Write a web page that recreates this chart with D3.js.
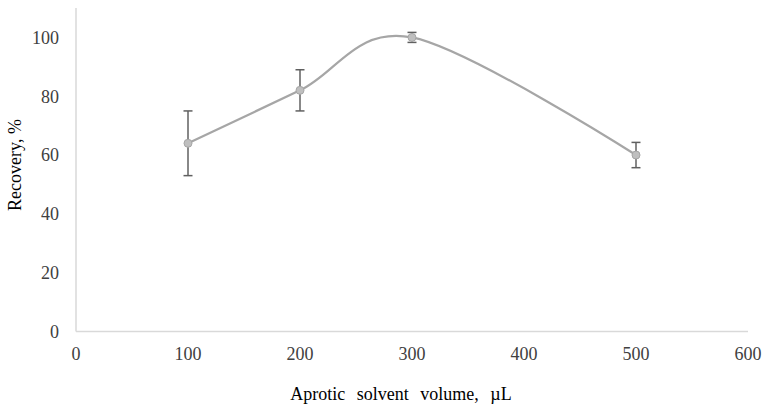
<!DOCTYPE html>
<html><head><meta charset="utf-8">
<script src="https://cdn.jsdelivr.net/npm/d3@7"></script>
<style>body{margin:0;background:#fff;}svg{display:block;}</style>
</head><body>
<svg id="c" width="766" height="406"></svg>
<script>
const volumes = [100, 200, 300, 500];
const recovery = [64, 82, 100, 60];
const errors = [11, 7, 1.7, 4.3];
const xTicks = [0, 100, 200, 300, 400, 500, 600];
const yTicks = [0, 20, 40, 60, 80, 100];
const xTitle = "Aprotic solvent volume, µL";
const yTitle = "Recovery, %";

const svg = d3.select("#c");
const FONT = '"Liberation Serif"';
const x = d3.scaleLinear().domain([0, 600]).range([76, 748]);
const y = d3.scaleLinear().domain([0, 110]).range([331.5, 8]);

// axes lines
svg.append("line").attr("x1", x(0)).attr("x2", x(600)).attr("y1", y(0)).attr("y2", y(0))
  .attr("stroke", "#d9d9d9").attr("stroke-width", 1.5);
svg.append("line").attr("x1", x(0)).attr("x2", x(0)).attr("y1", y(0)).attr("y2", y(110))
  .attr("stroke", "#d9d9d9").attr("stroke-width", 1.5);

// tick labels
svg.selectAll(".yt").data(yTicks).enter().append("text")
  .attr("x", 59).attr("y", d => y(d)).attr("dy", "0.35em")
  .attr("text-anchor", "end").style("font-family", FONT).attr("font-size", 18).attr("fill", "#404040")
  .text(d => d);
svg.selectAll(".xt").data(xTicks).enter().append("text")
  .attr("x", d => x(d)).attr("y", 360)
  .attr("text-anchor", "middle").style("font-family", FONT).attr("font-size", 18).attr("fill", "#404040")
  .text(d => d);

// titles
svg.append("text").attr("x", 401).attr("y", 400).attr("text-anchor", "middle")
  .style("font-family", FONT).attr("font-size", 18).attr("fill", "#000").style("word-spacing", "7px")
  .text(xTitle);
svg.append("text").attr("transform", "translate(21,165) rotate(-90)").attr("text-anchor", "middle")
  .style("font-family", FONT).attr("font-size", 18).attr("fill", "#000")
  .text(yTitle);

const pts = volumes.map((v, i) => ({x: v, y: recovery[i], e: errors[i]}));

// smoothed line
const line = d3.line().x(d => x(d.x)).y(d => y(d.y)).curve(d3.curveCardinal.tension(0));
svg.append("path").attr("d", line(pts)).attr("fill", "none")
  .attr("stroke", "#a6a6a6").attr("stroke-width", 2.2);

// error bars
const eb = svg.append("g").attr("stroke", "#606060").attr("stroke-width", 1.5);
pts.forEach(d => {
  eb.append("line").attr("x1", x(d.x)).attr("x2", x(d.x)).attr("y1", y(d.y - d.e)).attr("y2", y(d.y + d.e));
  [d.y - d.e, d.y + d.e].forEach(v => {
    eb.append("line").attr("x1", x(d.x) - 4.5).attr("x2", x(d.x) + 4.5).attr("y1", y(v)).attr("y2", y(v));
  });
});

// markers
svg.selectAll(".m").data(pts).enter().append("circle")
  .attr("cx", d => x(d.x)).attr("cy", d => y(d.y)).attr("r", 4)
  .attr("fill", "#bfbfbf").attr("stroke", "#a6a6a6").attr("stroke-width", 1);
</script>
</body></html>
